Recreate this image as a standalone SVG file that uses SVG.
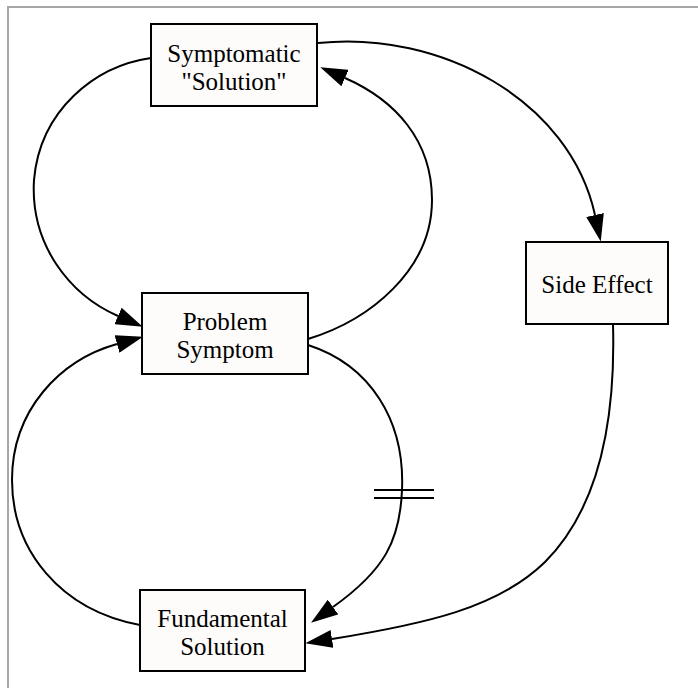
<svg xmlns="http://www.w3.org/2000/svg" width="698" height="688" viewBox="0 0 698 688">
  <style>
    .node rect { fill: #fdfcfa; stroke: #000; stroke-width: 2; }
    .node text { font-family: "Liberation Serif", "Times New Roman", serif; font-size: 25px; fill: #000; text-anchor: middle; }
    .edges path { fill: none; stroke: #000; stroke-width: 2; }
    .edges path.arrow { marker-end: url(#head); }
  </style>
  <defs>
    <marker id="head" markerUnits="userSpaceOnUse" viewBox="0 0 27 18" refX="0" refY="9" markerWidth="27" markerHeight="18" orient="auto">
      <path d="M0,0 L27,9 L0,18 z" fill="#000"/>
    </marker>
  </defs>

  <!-- frame -->
  <rect x="8" y="7" width="700" height="700" fill="#fff" stroke="#a6a6a6" stroke-width="2"/>

  <g class="edges" id="connectors">
    <!-- Symptomatic Solution -> Problem Symptom (left loop) -->
    <path class="arrow" d="M151,58 C95,66 40,110 34,180 C30,245 70,295 118,316"/>
    <!-- Problem Symptom -> Symptomatic Solution (right loop) -->
    <path class="arrow" d="M308,339 C370,320 432,270 432,200 C432,140 395,100 345,78"/>
    <!-- Symptomatic Solution -> Side Effect -->
    <path class="arrow" d="M318,43 C440,30 570,100 595,215"/>
    <!-- Side Effect -> Fundamental Solution -->
    <path class="arrow" d="M613,324 C616,430 595,512 545,562 C498,608 425,624 332,639"/>
    <!-- Problem Symptom -> Fundamental Solution (delayed) -->
    <path class="arrow" d="M308,345 C370,365 405,420 402,490 C400,540 385,570 333,607"/>
    <!-- delay mark -->
    <path d="M374,490 H434 M374,498 H434"/>
    <!-- Fundamental Solution -> Problem Symptom -->
    <path class="arrow" d="M140,625 C60,610 12,550 12,480 C12,410 60,360 117,344"/>
  </g>

  <g class="node" id="symptomatic-solution">
    <rect x="151" y="24" width="166" height="82"/>
    <text x="234" y="62">Symptomatic</text>
    <text x="234" y="90">"Solution"</text>
  </g>

  <g class="node" id="problem-symptom">
    <rect x="142" y="293" width="166" height="81"/>
    <text x="225" y="330">Problem</text>
    <text x="225" y="358">Symptom</text>
  </g>

  <g class="node" id="side-effect">
    <rect x="526" y="242" width="142" height="82"/>
    <text x="597" y="293">Side Effect</text>
  </g>

  <g class="node" id="fundamental-solution">
    <rect x="140" y="590" width="165" height="81"/>
    <text x="222.5" y="627">Fundamental</text>
    <text x="222.5" y="655">Solution</text>
  </g>
</svg>
